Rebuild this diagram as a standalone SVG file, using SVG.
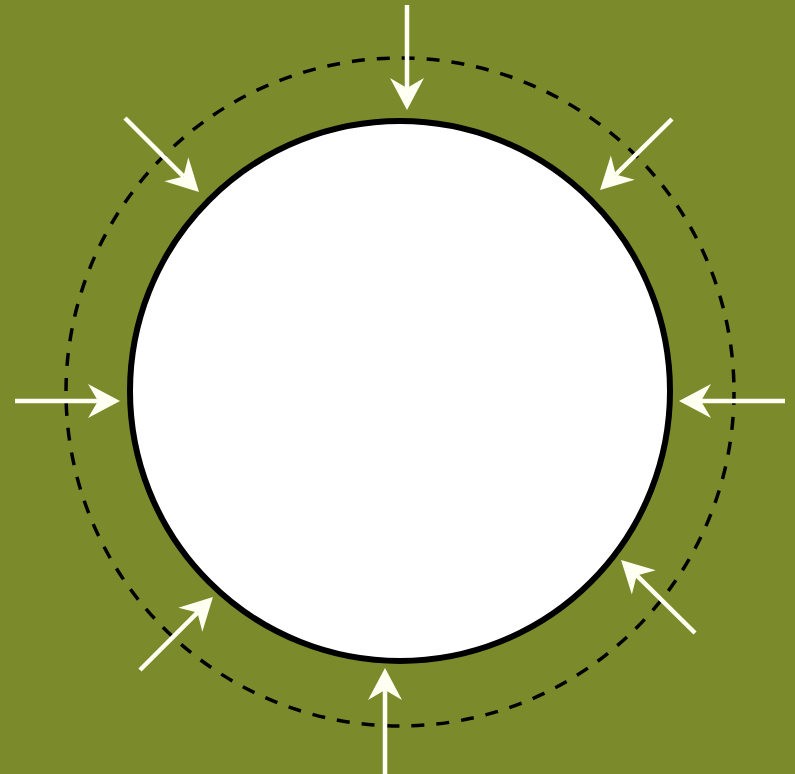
<svg xmlns="http://www.w3.org/2000/svg" width="795" height="774" viewBox="0 0 795 774">
  <defs>
    <style>
      .arrow { stroke: #fffff2; stroke-width: 4.5; fill: none; marker-end: url(#head); }
      .dashed { fill: none; stroke: #000; stroke-width: 3.5; stroke-dasharray: 13 12; }
      .body { fill: #ffffff; stroke: #000; stroke-width: 6; }
    </style>
    <marker id="head" markerUnits="userSpaceOnUse" markerWidth="40" markerHeight="40" viewBox="0 -20 40 40" refX="10" refY="0" orient="auto" overflow="visible">
      <path d="M32,0 L0,-17 L10,0 L0,17 Z" fill="#fffff2"/>
    </marker>
  </defs>
  <rect x="0" y="0" width="795" height="774" fill="#7b8a2b"/>
  <g id="outer-boundary">
    <circle class="dashed" cx="400" cy="392" r="334"/>
  </g>
  <g id="circle">
    <circle class="body" cx="400" cy="391" r="270"/>
  </g>
  <g id="connectors">
    <line class="arrow" x1="407" y1="5" x2="407" y2="88"/>
    <line class="arrow" x1="15" y1="401" x2="98" y2="401"/>
    <line class="arrow" x1="785" y1="401" x2="701" y2="401"/>
    <line class="arrow" x1="385" y1="774" x2="385" y2="690"/>
    <line class="arrow" x1="125" y1="118" x2="183.4" y2="176.4"/>
    <line class="arrow" x1="672" y1="119" x2="615.7" y2="174.6"/>
    <line class="arrow" x1="140" y1="670" x2="197.4" y2="612.6"/>
    <line class="arrow" x1="695" y1="633" x2="636.7" y2="575.4"/>
  </g>
</svg>
